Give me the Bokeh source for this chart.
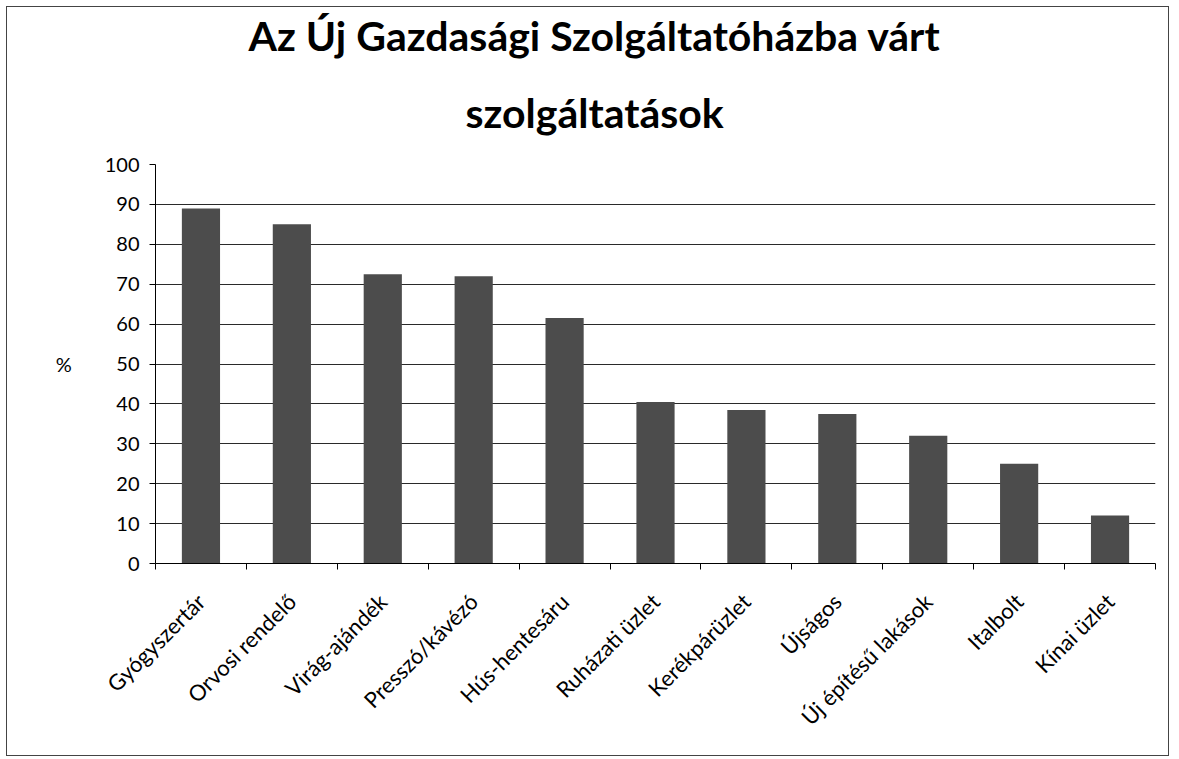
import math
from bokeh.plotting import figure
from bokeh.models import Range1d, FixedTicker, Title
from bokeh.embed import file_html
from bokeh.resources import INLINE

categories = ["Gyógyszertár", "Orvosi rendelő", "Virág-ajándék", "Presszó/kávézó",
              "Hús-hentesáru", "Ruházati üzlet", "Kerékpárüzlet", "Újságos",
              "Új építésű lakások", "Italbolt", "Kínai üzlet"]
values = [89, 85, 72.5, 72, 61.5, 40.5, 38.5, 37.5, 32, 25, 12]
y_ticks = [0, 10, 20, 30, 40, 50, 60, 70, 80, 90, 100]
title_lines = ["Az Új Gazdasági Szolgáltatóházba várt", "szolgáltatások"]
y_label = "%"

FONT = "Lato"
n = len(categories)
x_pos = [i + 0.5 for i in range(n)]

p = figure(width=1163, height=750, x_range=Range1d(0, n), y_range=Range1d(0, 100),
           output_backend="svg", toolbar_location=None, title_location=None,
           min_border_left=148, min_border_right=15, min_border_top=157, min_border_bottom=194)
p.styles = {"border": "1px solid #444", "margin": "6px 0 0 6px"}
p.outline_line_color = None
p.background_fill_color = "white"
p.border_fill_color = "white"

p.vbar(x=x_pos, top=values, width=0.42, fill_color="#4c4c4c", line_color=None)

# grid
p.xgrid.grid_line_color = None
p.ygrid.ticker = FixedTicker(ticks=y_ticks)
p.ygrid.grid_line_color = "#2a2a2a"
p.ygrid.grid_line_width = 1

# x axis
xa = p.xaxis[0]
xa.ticker = FixedTicker(ticks=x_pos, minor_ticks=list(range(n + 1)))
xa.major_label_overrides = {x: c for x, c in zip(x_pos, categories)}
xa.major_label_orientation = math.pi / 4
xa.major_tick_line_color = None
xa.major_tick_in = 0
xa.major_tick_out = 0
xa.minor_tick_line_color = "black"
xa.minor_tick_in = 0
xa.minor_tick_out = 6
xa.axis_line_color = "black"
xa.major_label_text_font = FONT
xa.major_label_text_font_size = "22px"
xa.major_label_text_color = "black"
xa.major_label_standoff = 28

# y axis
ya = p.yaxis[0]
ya.ticker = FixedTicker(ticks=y_ticks)
ya.minor_tick_line_color = None
ya.major_tick_in = 0
ya.major_tick_out = 6
ya.major_tick_line_color = "black"
ya.axis_line_color = "black"
ya.major_label_text_font = FONT
ya.major_label_text_font_size = "20px"
ya.major_label_text_color = "black"
ya.major_label_standoff = 10
ya.axis_label = y_label
ya.axis_label_orientation = "horizontal"
ya.axis_label_text_font = FONT
ya.axis_label_text_font_size = "20px"
ya.axis_label_text_font_style = "normal"
ya.axis_label_text_color = "black"
ya.axis_label_standoff = 30

# two-line title, the line closest to the frame is added first
p.add_layout(Title(text=title_lines[1], align="left", offset=310, standoff=55,
                   text_font=FONT, text_font_style="bold", text_font_size="41px",
                   text_color="black"), "above")
p.add_layout(Title(text=title_lines[0], align="left", offset=93, standoff=-2,
                   text_font=FONT, text_font_style="bold", text_font_size="41px",
                   text_color="black"), "above")

open("out.html", "w").write(file_html(p, INLINE))
